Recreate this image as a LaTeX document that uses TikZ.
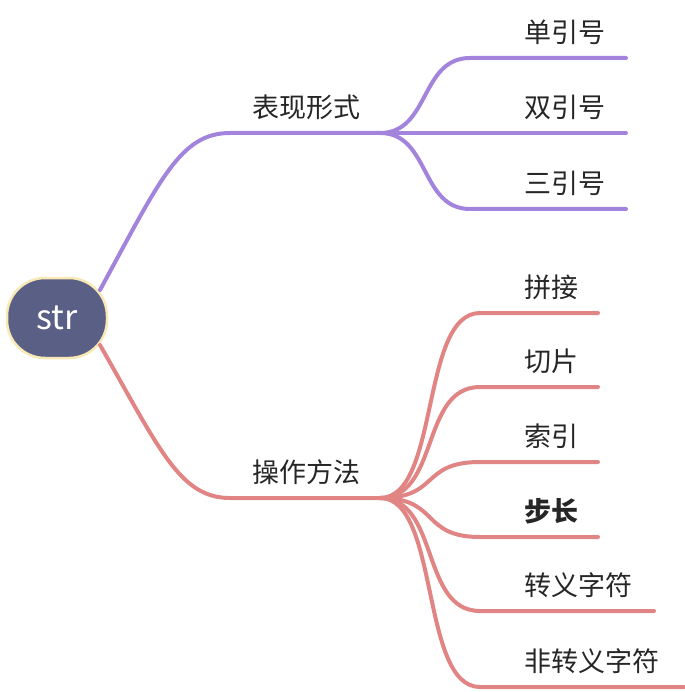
\documentclass[tikz,border=0pt]{standalone}
\usepackage{fontspec}
\setmainfont{Noto Sans CJK SC}
\definecolor{pur}{HTML}{A384DD}
\definecolor{redb}{HTML}{E08484}
\definecolor{rootc}{HTML}{5A5F86}
\definecolor{rootb}{HTML}{F7E8B5}
\begin{document}
\begin{tikzpicture}[x=1pt,y=-1pt,
  br/.style={line width=4pt,line cap=round},
  lbl/.style={anchor=west,font=\fontsize{27}{30}\selectfont,text=black!85,inner sep=0pt}]
\useasboundingbox (0,0) rectangle (684,692);
\node[draw=rootb,line width=2.5pt,fill=rootc,rounded corners=38pt,minimum width=100pt,minimum height=80pt,text=white,font=\fontsize{34}{38}\selectfont] (root) at (57,318) {str};
\coordinate (p) at (380,133);
\coordinate (r) at (380,498);
\draw[br,pur] (100,290) .. controls (160,180) and (180,133) .. (230,133) -- (p);
\draw[br,redb] (100,345) .. controls (160,450) and (180,498) .. (230,498) -- (r);
\node[lbl] at (252,107) {表现形式};
\node[lbl] at (252,472) {操作方法};
\foreach \y/\e/\t in {58/626/单引号,133/626/双引号,209/626/三引号}{
  \draw[br,pur] (p) .. controls (430,133) and (420,\y) .. (470,\y) -- (\e,\y);
  \node[lbl] at (524,\y-26) {\t};
}
\foreach \y/\e/\t in {313/598/拼接,387/598/切片,462/598/索引,537/598/\textbf{步长},611/654/转义字符,687/684/非转义字符}{
  \draw[br,redb] (r) .. controls (440,498) and (420,\y) .. (480,\y) -- (\e,\y);
  \node[lbl] at (524,\y-26) {\t};
}
\end{tikzpicture}
\end{document}
